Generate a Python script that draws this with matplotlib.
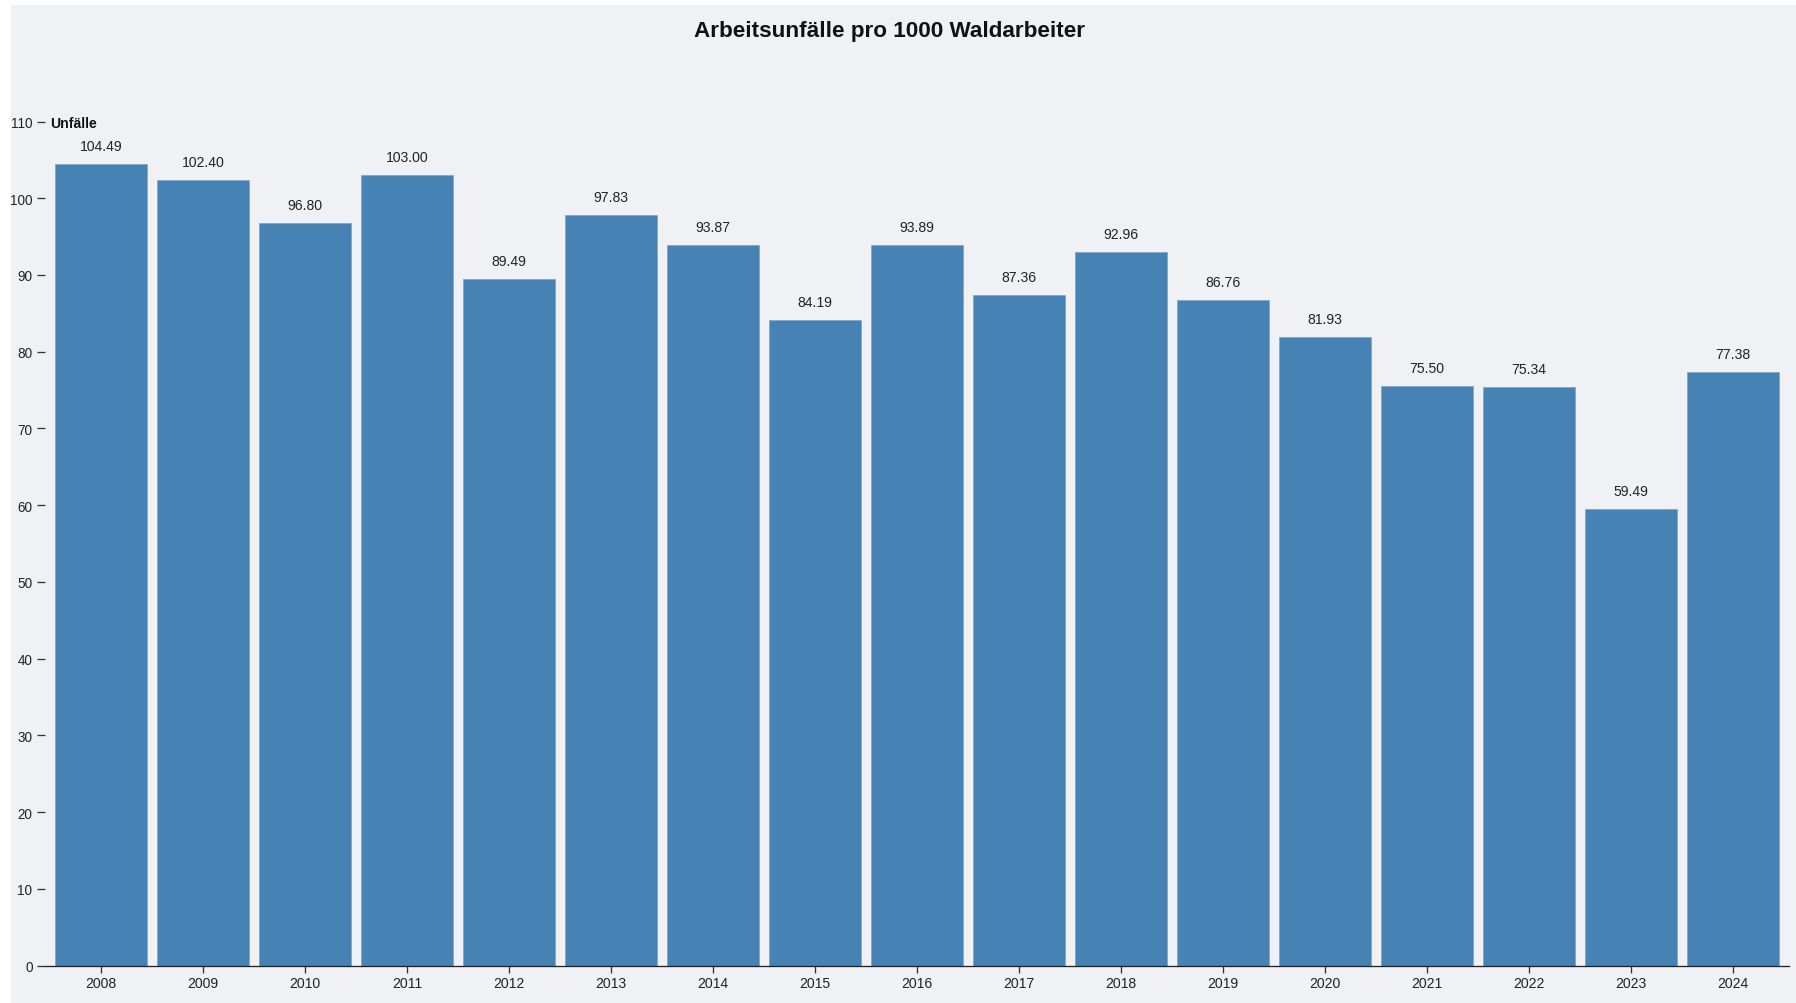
import matplotlib
matplotlib.use("Agg")
import matplotlib.pyplot as plt
from matplotlib.patches import Rectangle

years = ["2008", "2009", "2010", "2011", "2012", "2013", "2014", "2015", "2016",
         "2017", "2018", "2019", "2020", "2021", "2022", "2023", "2024"]
values = [104.49, 102.40, 96.80, 103.00, 89.49, 97.83, 93.87, 84.19, 93.89,
          87.36, 92.96, 86.76, 81.93, 75.50, 75.34, 59.49, 77.38]
y_ticks = [0, 10, 20, 30, 40, 50, 60, 70, 80, 90, 100, 110]
title = "Arbeitsunfälle pro 1000 Waldarbeiter"
y_label = "Unfälle"

W, H, DPI = 1796, 1004, 100
px = 72.0 / DPI

plt.rcParams['font.family'] = ['Liberation Sans', 'DejaVu Sans']

fig = plt.figure(figsize=(W / DPI, H / DPI), dpi=DPI, facecolor="white")
bg = "#eff1f5"
fig.patches.append(Rectangle((11 / W, 0), 1 - 11 / W, 1 - 6 / H,
                             transform=fig.transFigure, facecolor=bg,
                             edgecolor="none", zorder=-10))

left, right = 45 / W, 1789 / W
bottom, top = (H - 966.5) / H, (H - 122.5) / H
ax = fig.add_axes([left, bottom, right - left, top - bottom])
ax.set_facecolor("none")

x = list(range(len(years)))
ax.bar(x, values, width=0.9, color="#4682b4", edgecolor="#86aacd",
       linewidth=1.0 * px, zorder=2)

for xi, v in zip(x, values):
    ax.annotate(f"{v:.2f}", (xi, v), xytext=(0, 14 * px),
                textcoords="offset points", ha="center", va="baseline",
                fontsize=14 * px, color="#222222")

ax.set_xlim(-0.55, 16.55)
ax.set_ylim(0, 110)
ax.set_xticks(x)
ax.set_xticklabels(years)
ax.set_yticks(y_ticks)
ax.set_yticklabels([str(t) for t in y_ticks])

for s in ["top", "right", "left"]:
    ax.spines[s].set_visible(False)
ax.spines["bottom"].set_color("#222222")
ax.spines["bottom"].set_linewidth(1.3 * px)

ax.tick_params(axis="x", length=7 * px, width=1.3 * px, color="#333333",
               labelsize=14 * px, labelcolor="#222222", pad=4 * px)
ax.tick_params(axis="y", length=8 * px, width=1.3 * px, color="#333333",
               labelsize=13.5 * px, labelcolor="#222222", pad=4.5 * px)

ax.text(50 / W, (H - 122) / H, y_label, transform=fig.transFigure,
        ha="left", va="center_baseline", fontsize=14 * px, fontweight="bold",
        color="#111111")

fig.text(889 / W, (H - 32) / H, title, ha="center", va="center",
         fontsize=22.5 * px, fontweight="bold", color="#111111")

fig.savefig("out.png", dpi=DPI, facecolor="white")
